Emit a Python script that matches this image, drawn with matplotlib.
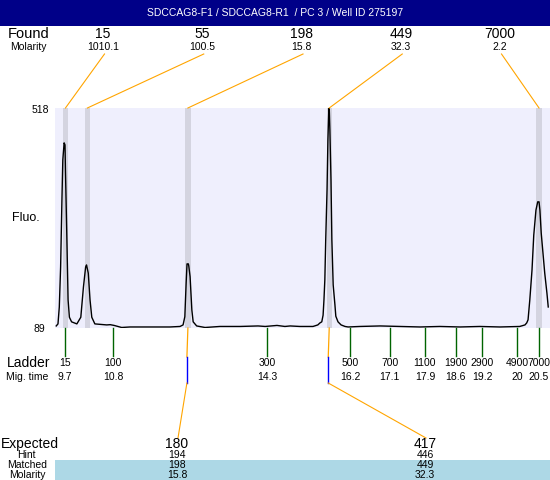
import numpy as np
import matplotlib
matplotlib.use('Agg')
import matplotlib.pyplot as plt
from matplotlib.patches import Rectangle

plt.rcParams['font.family'] = ['Liberation Sans', 'DejaVu Sans']

titolo = 'SDCCAG8-F1 / SDCCAG8-R1  / PC 3 / Well ID 275197'

# trace (migration time [s], fluorescence)
tempo = [9.50, 9.54, 9.57, 9.60, 9.63, 9.65, 9.68, 9.70, 9.71, 9.74, 9.77, 9.80, 9.85,
         9.97, 10.06, 10.12, 10.17, 10.19, 10.23, 10.27, 10.31, 10.38, 10.65, 10.73,
         10.82, 10.99, 11.18, 11.64, 12.09, 12.32, 12.39, 12.43, 12.46, 12.48, 12.51,
         12.52, 12.55, 12.59, 12.62, 12.70, 12.89, 13.23, 13.69, 14.10, 14.26, 14.53,
         14.71, 14.83, 15.05, 15.28, 15.35, 15.46, 15.51, 15.55, 15.58, 15.60, 15.62,
         15.64, 15.67, 15.69, 15.71, 15.72, 15.735, 15.76, 15.78, 15.81, 15.85, 15.87,
         15.92, 15.99, 16.08, 16.15, 16.42, 16.88, 17.33, 17.79, 18.24, 18.70, 19.15,
         19.61, 20.06, 20.18, 20.22, 20.25, 20.29, 20.34, 20.38, 20.43, 20.47, 20.50,
         20.52, 20.55, 20.63, 20.68, 20.71]
fluo = [93, 97, 130, 208, 339, 417, 450, 446, 397, 274, 144, 110, 101,
        97, 110, 169, 208, 212, 196, 144, 110, 97, 95, 95.5,
        94, 90, 91, 91, 91, 92, 95, 111, 177, 214, 214,
        210, 189, 124, 101, 93, 90, 92, 92, 93, 92, 94,
        92, 93, 92, 92, 92, 95, 99, 101, 114, 144, 183,
        261, 358, 456, 514, 518, 475, 378, 261, 173, 134, 112,
        101, 95, 92, 91, 92, 93, 92, 91, 92, 91, 92,
        91, 92, 95, 99, 105, 144, 202, 270, 319, 335, 335,
        319, 274, 196, 157, 130]

found_size = ['15', '55', '198', '449', '7000']
found_mol = ['1010.1', '100.5', '15.8', '32.3', '2.2']
found_time = [9.71, 10.21, 12.5, 15.72, 20.5]

ladder_size = ['15', '100', '300', '500', '700', '1100', '1900', '2900', '4900', '7000']
ladder_time = [9.7, 10.8, 14.3, 16.2, 17.1, 17.9, 18.6, 19.2, 20, 20.5]
ladder_lab = ['9.7', '10.8', '14.3', '16.2', '17.1', '17.9', '18.6', '19.2', '20', '20.5']

expected = ['180', '417']
hint = ['194', '446']
matched = ['198', '449']
matched_mol = ['15.8', '32.3']
matched_time = [12.5, 15.72]

fig = plt.figure(figsize=(5.5, 4.8), dpi=100)
ax = fig.add_axes([55/550, 152/480, 495/550, 220/480])
ax.set_facecolor('#efeffd')
ax.set_xlim(9.472, 20.75)
ax.set_ylim(89, 518)
for t in found_time:
    ax.axvspan(t - 0.06, t + 0.06, color='#d4d4e0', lw=0)
ax.plot(tempo, fluo, color='black', lw=1.0)
ax.set_xticks([])
ax.set_yticks([])
for s in ax.spines.values():
    s.set_visible(False)

# overlay in pixel coords
ov = fig.add_axes([0, 0, 1, 1])
ov.set_xlim(0, 550)
ov.set_ylim(480, 0)
ov.axis('off')
ov.patch.set_alpha(0)


def px(t):
    return ov.transData.inverted().transform(ax.transData.transform((t, 89)))[0]


ov.add_patch(Rectangle((0, 0), 550, 26, color='#000088', lw=0))
ov.text(275, 13.5, titolo, color='white', ha='center', va='center', fontsize=7.5)

ov.text(8, 34, 'Found', fontsize=10.5, va='center', ha='left')
ov.text(10, 46.5, 'Molarity', fontsize=7.5, va='center', ha='left')
xs = np.linspace(103, 500, len(found_size))
for x, s, m, t in zip(xs, found_size, found_mol, found_time):
    ov.text(x, 34, s, fontsize=10, ha='center', va='center')
    ov.text(x, 46.5, m, fontsize=7.5, ha='center', va='center')
    ov.plot([x + 1.5, px(t)], [54, 108], color='orange', lw=0.8)

ov.text(49, 110, '518', fontsize=7.5, ha='right', va='center')
ov.text(45, 329, '89', fontsize=7.5, ha='right', va='center')
ov.text(26, 218, 'Fluo.', fontsize=9, ha='center', va='center')

ov.text(7, 363, 'Ladder', fontsize=10, ha='left', va='center')
ov.text(6, 377, 'Mig. time', fontsize=7.5, ha='left', va='center')
for s, t, l in zip(ladder_size, ladder_time, ladder_lab):
    x = px(t)
    ov.plot([x, x], [328, 356], color='#006400', lw=1)
    ov.text(x, 363, s, fontsize=7.5, ha='center', va='center')
    ov.text(x, 377, l, fontsize=7.5, ha='center', va='center')

# expected table
ov.add_patch(Rectangle((55, 460), 495, 20, color='#add8e6', lw=0))
ov.text(1, 444, 'Expected', fontsize=10, ha='left', va='center')
ov.text(26, 455.5, 'Hint', fontsize=7.5, ha='center', va='center')
ov.text(27, 465.5, 'Matched', fontsize=7.5, ha='center', va='center')
ov.text(27, 475, 'Molarity', fontsize=7.5, ha='center', va='center')
col_x = [177, 425]
for x, e, h, m, mm, t in zip(col_x, expected, hint, matched, matched_mol, matched_time):
    xp = px(t)
    ov.plot([xp, xp - 1], [328, 357], color='orange', lw=0.9)
    ov.plot([xp - 1, xp - 1], [357, 383], color='blue', lw=1)
    ov.plot([xp - 1, x + 1], [383, 438], color='orange', lw=0.8)
    ov.text(x, 444, e, fontsize=10, ha='center', va='center')
    ov.text(x, 455.5, h, fontsize=7.5, ha='center', va='center')
    ov.text(x, 465.5, m, fontsize=7.5, ha='center', va='center')
    ov.text(x, 475, mm, fontsize=7.5, ha='center', va='center')

fig.savefig('out.png', dpi=100)
